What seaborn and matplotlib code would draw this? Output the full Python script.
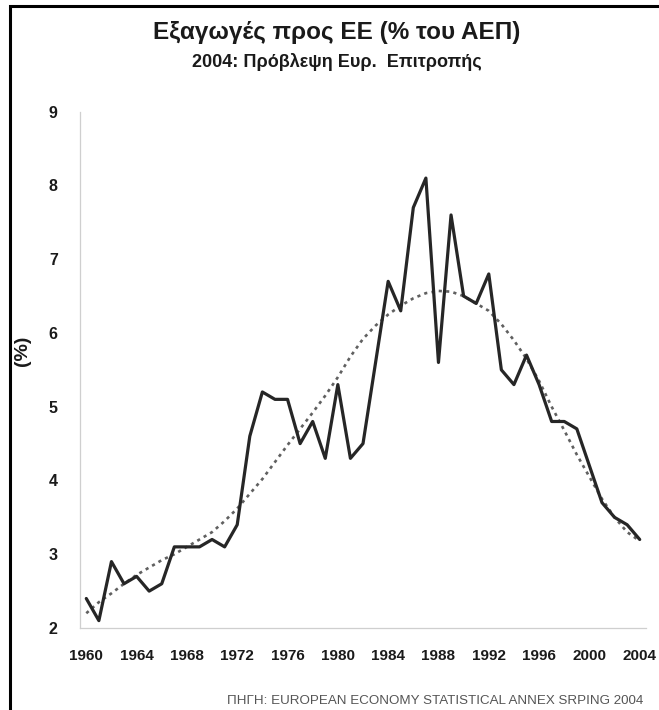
import numpy as np
import pandas as pd
import matplotlib
matplotlib.use("Agg")
import matplotlib.pyplot as plt
from matplotlib.patches import Rectangle
import seaborn as sns

# Exports to the EU, % of GDP
years = list(range(1960, 2005))
exports = [2.4, 2.1, 2.9, 2.6, 2.7, 2.5, 2.6, 3.1, 3.1, 3.1,
           3.2, 3.1, 3.4, 4.6, 5.2, 5.1, 5.1, 4.5, 4.8, 4.3,
           5.3, 4.3, 4.5, 5.6, 6.7, 6.3, 7.7, 8.1, 5.6, 7.6,
           6.5, 6.4, 6.8, 5.5, 5.3, 5.7, 5.3, 4.8, 4.8, 4.7,
           4.2, 3.7, 3.5, 3.4, 3.2]
# dotted trend curve, read per year
trend = [2.2, 2.35, 2.47, 2.6, 2.72, 2.82, 2.92, 3.0, 3.1, 3.2,
         3.3, 3.45, 3.62, 3.82, 4.02, 4.25, 4.48, 4.7, 4.92, 5.15,
         5.4, 5.68, 5.92, 6.1, 6.25, 6.37, 6.47, 6.54, 6.57, 6.56,
         6.5, 6.4, 6.3, 6.12, 5.9, 5.65, 5.35, 5.0, 4.68, 4.35,
         4.05, 3.75, 3.5, 3.3, 3.18]
year_labels = [str(y) for y in range(1960, 2005, 4)]
y_ticks = [2, 3, 4, 5, 6, 7, 8, 9]

df = pd.DataFrame({"year": years, "exports": exports, "trend": trend})

sns.set_style("white")
plt.rcParams['font.family'] = ['Liberation Sans', 'DejaVu Sans']
narrow = ['Liberation Sans Narrow', 'DejaVu Sans Condensed',
          'Liberation Sans', 'DejaVu Sans']

fig = plt.figure(figsize=(6.59, 7.10), dpi=100)
ax = fig.add_axes([80/659, 1-628/710, (646-80)/659, (628-111.7)/710])

sns.lineplot(data=df, x="year", y="trend", ax=ax, color="#606060",
             linewidth=1.9, linestyle=(0, (1.2, 1.6)))
sns.lineplot(data=df, x="year", y="exports", ax=ax, color="#262626",
             linewidth=2.3)

ax.set_xlim(1959.5, 2004.5)
ax.set_ylim(2, 9)
ax.set_xlabel("")
ax.set_ylabel("")

ax.set_yticks(y_ticks)
ax.set_yticklabels([str(v) for v in y_ticks], family=narrow,
                   fontweight="bold", fontsize=11.5, color="#1a1a1a")
ax.set_xticks(list(range(1960, 2005, 4)))
ax.set_xticklabels(year_labels, family=narrow, fontweight="bold",
                   fontsize=11, color="#1a1a1a")
ax.set_xticks(np.arange(1959.5, 2005, 1), minor=True)
ax.tick_params(axis="x", which="major", length=0, pad=15)
ax.tick_params(axis="x", which="minor", length=3, width=0.8,
               color="#c8c8c8", direction="out")
ax.tick_params(axis="y", length=3, width=0.8, color="#c8c8c8", pad=13)

for s in ["top", "right"]:
    ax.spines[s].set_visible(False)
for s in ["left", "bottom"]:
    ax.spines[s].set_color("#cfcfcf")
    ax.spines[s].set_linewidth(0.9)

fig.text(23/659, 1-351/710, "(%)", rotation=90, ha="center", va="center",
         fontsize=14, fontweight="bold", color="#1a1a1a")

fig.text(337/659, 1-33/710, "Εξαγωγές προς ΕΕ (% του ΑΕΠ)", ha="center",
         va="center", fontsize=17.5, fontweight="bold", color="#1a1a1a")
fig.text(337/659, 1-62/710, "2004: Πρόβλεψη Ευρ.  Επιτροπής", ha="center",
         va="center", fontsize=13, fontweight="bold", color="#1a1a1a")
fig.text(643/659, 1-701/710,
         "ΠΗΓΗ: EUROPEAN ECONOMY STATISTICAL ANNEX SRPING 2004",
         ha="right", va="center", fontsize=9.6, color="#555555")

# black frame, open on the right and bottom like the scanned original
fig.patches.append(Rectangle((10/659, -0.1), 1.2, 1.1 - 5.8/710,
                             transform=fig.transFigure, fill=False,
                             edgecolor="black", linewidth=2.2))

fig.savefig("out.png", dpi=100, facecolor="white")
